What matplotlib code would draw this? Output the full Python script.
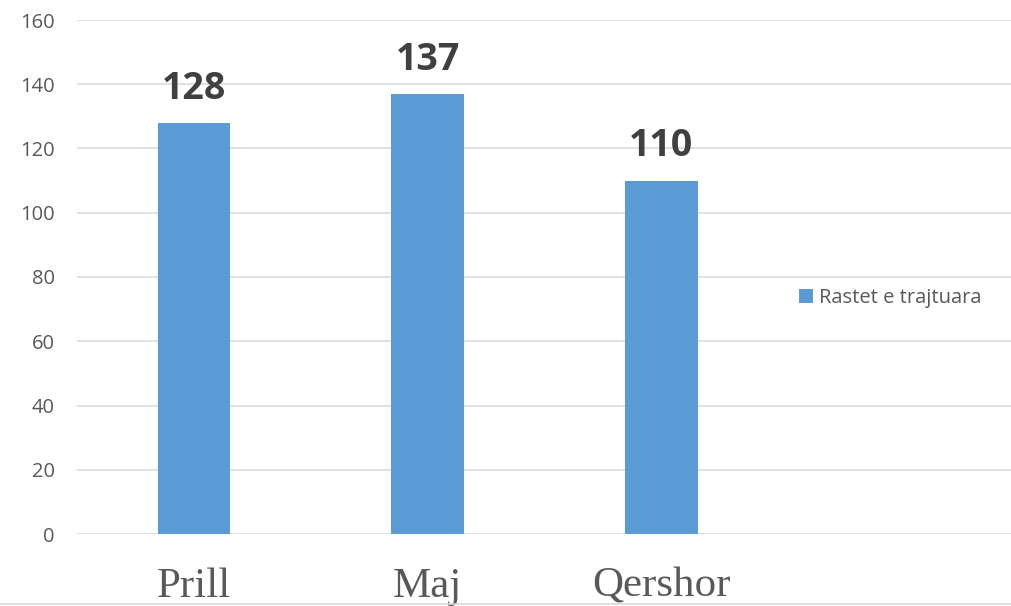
import matplotlib
matplotlib.use("Agg")
import matplotlib.pyplot as plt
from matplotlib.patches import Patch

categories = ["Prill", "Maj", "Qershor", ""]
values = [128, 137, 110]
series_name = "Rastet e trajtuara"
yticks = [0, 20, 40, 60, 80, 100, 120, 140, 160]

bar_color = "#5B9BD5"
grid_color = "#D9D9D9"

fig = plt.figure(figsize=(10.12, 6.06), dpi=100)
ax = fig.add_axes([77/1012, (606-534)/606, 935/1012, 514/606])

x = list(range(len(values)))
bars = ax.bar(x, values, width=0.31, color=bar_color, zorder=3)

ax.set_xlim(-0.5, len(categories) - 0.5)
ax.set_ylim(0, 160)
ax.set_yticks(yticks)
ax.set_yticklabels([str(v) for v in yticks], fontfamily="Open Sans",
                   fontsize=14.5, color="#595959")
ax.yaxis.grid(True, color=grid_color, linewidth=1.1, zorder=0)
ax.set_axisbelow(True)
ax.tick_params(axis="y", length=0, pad=16)
ax.tick_params(axis="x", length=0, pad=24)
ax.set_xticks(range(len(categories)))
ax.set_xticklabels(categories, fontfamily="Liberation Serif", fontsize=31,
                   color="#595959")
for s in ax.spines.values():
    s.set_visible(False)

for xi, v in zip(x, values):
    ax.annotate(str(v), (xi, v), xytext=(0, 11), textcoords="offset points",
                ha="center", va="bottom", fontfamily="Open Sans",
                fontweight="bold", fontsize=27, color="#404040")

handle = Patch(facecolor=bar_color, edgecolor="none")
leg = fig.legend([handle], [series_name], loc="center left",
                 bbox_to_anchor=(781/1012, 1 - 298/606), frameon=False,
                 handlelength=0.7, handleheight=0.7, handletextpad=0.3,
                 prop={"family": "Open Sans", "size": 14.5})
for t in leg.get_texts():
    t.set_color("#595959")

fig.add_artist(plt.Line2D([0, 1], [1 - 604/606, 1 - 604/606],
                          transform=fig.transFigure, color=grid_color,
                          linewidth=1.2))

fig.savefig("out.png", dpi=100)
